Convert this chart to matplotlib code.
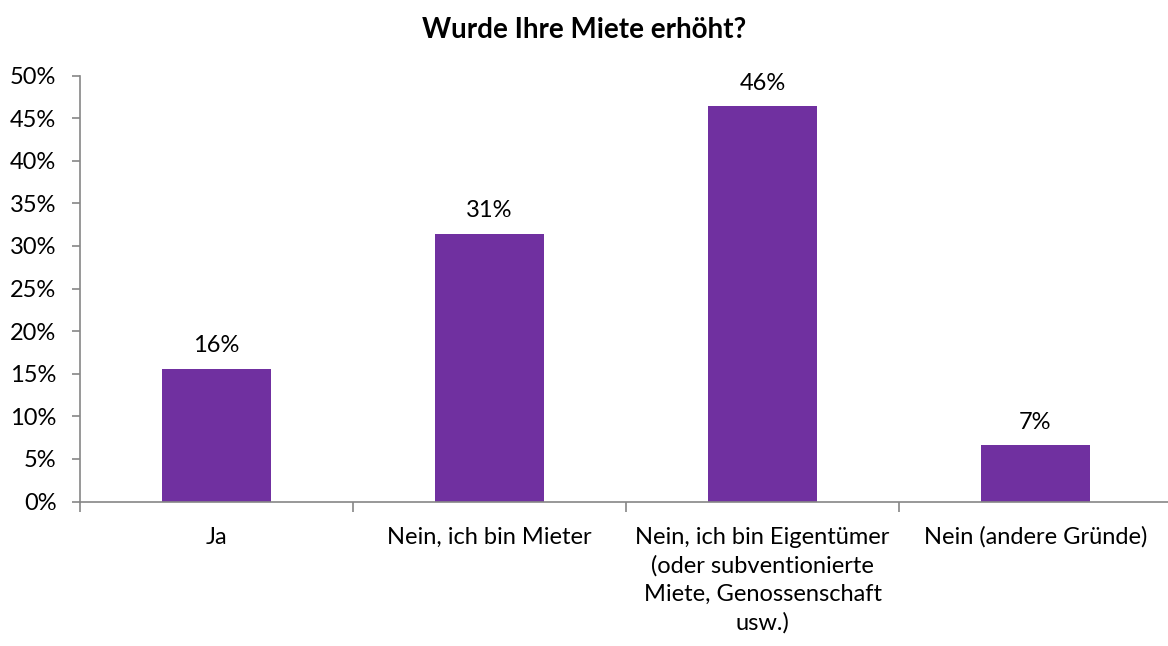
import matplotlib
matplotlib.use("Agg")
import matplotlib.pyplot as plt
from matplotlib.ticker import MultipleLocator, FuncFormatter, FixedLocator

categories = [
    "Ja",
    "Nein, ich bin Mieter",
    "Nein, ich bin Eigentümer\n(oder subventionierte\nMiete, Genossenschaft\nusw.)",
    "Nein (andere Gründe)",
]
shares = [15.6, 31.4, 46.4, 6.6]
title = "Wurde Ihre Miete erhöht?"

plt.rcParams["font.family"] = ["Lato", "DejaVu Sans"]

W, H = 1168, 646
fig = plt.figure(figsize=(W / 100, H / 100), dpi=100)
ax = fig.add_axes([80 / W, (H - 501.5) / H, 1092 / W, 426 / H])

bar_color = "#7030A0"
axis_gray = "#868686"
fs = 17
x = list(range(len(categories)))
bars = ax.bar(x, shares, width=0.4, color=bar_color)

for xi, v in zip(x, shares):
    ax.annotate(f"{v:.0f}%", (xi, v), xytext=(0, 9), textcoords="offset points",
                ha="center", va="bottom", fontsize=fs, color="#000000")

ax.set_xlim(-0.5, len(categories) - 0.5)
ax.set_ylim(0, 50)
ax.yaxis.set_major_locator(MultipleLocator(5))
ax.yaxis.set_major_formatter(FuncFormatter(lambda v, p: f"{v:.0f}%"))

# category labels at centres, tick marks at category boundaries
ax.set_xticks(x)
ax.set_xticklabels(categories, fontsize=fs, linespacing=1.42, va="top")
ax.tick_params(axis="x", which="major", length=0, pad=18)
ax.xaxis.set_minor_locator(FixedLocator([i - 0.5 for i in range(len(categories) + 1)]))
ax.tick_params(axis="x", which="minor", length=7, width=1.2, color=axis_gray, direction="out")
ax.tick_params(axis="y", length=6, width=1.2, color=axis_gray, labelsize=fs, pad=11)

for side in ("top", "right"):
    ax.spines[side].set_visible(False)
for side in ("left", "bottom"):
    ax.spines[side].set_color(axis_gray)
    ax.spines[side].set_linewidth(1.2)

fig.text(0.5, 1 - 30 / H, title, ha="center", va="center", fontsize=20, fontweight="bold")

fig.savefig("out.png", dpi=100)
